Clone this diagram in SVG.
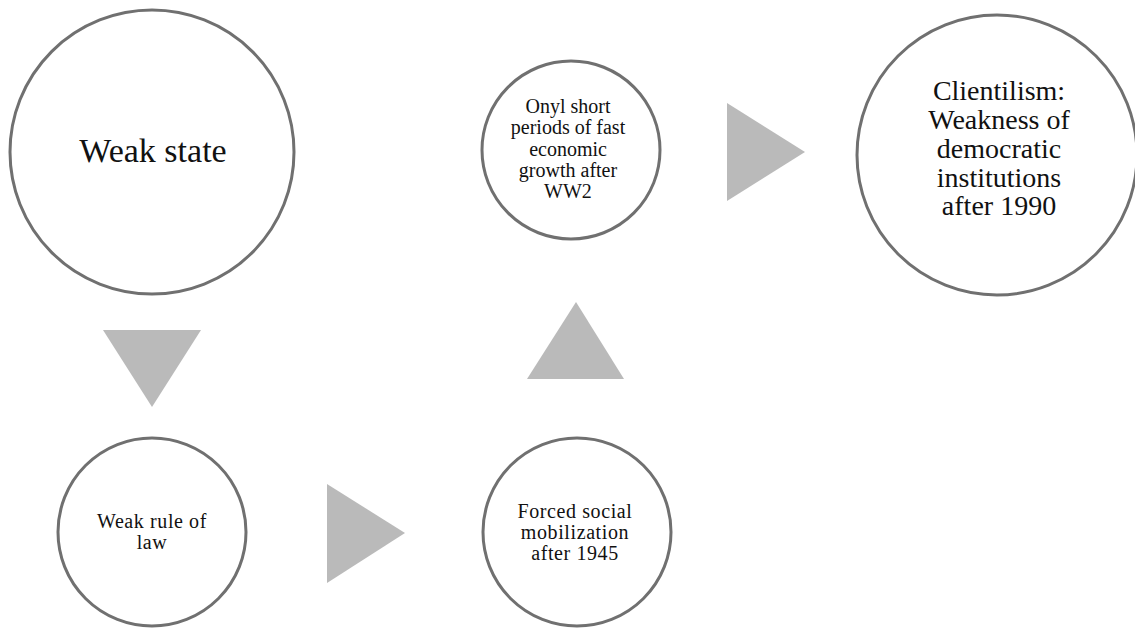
<svg xmlns="http://www.w3.org/2000/svg" width="1135" height="628" viewBox="0 0 1135 628">
<style>
.node circle{fill:#fff;stroke:#707070;stroke-width:3}
.arrow{fill:#bababa}
text{font-family:"Liberation Serif","DejaVu Serif",serif;fill:#111;text-anchor:middle}
.big{font-size:34px}
.mid{font-size:28px}
.small{font-size:20px;letter-spacing:0.6px}
.top{font-size:20px}
</style>
<rect width="1135" height="628" fill="#fff"/>
<g id="n-weak-state" class="node">
<circle cx="152" cy="152" r="142"/>
<text class="big" x="153" y="162">Weak state</text>
</g>
<g id="n-clientilism" class="node">
<circle cx="997" cy="155" r="140"/>
<text class="mid" x="999" y="100">Clientilism:</text>
<text class="mid" x="999" y="129">Weakness of</text>
<text class="mid" x="999" y="158">democratic</text>
<text class="mid" x="999" y="187">institutions</text>
<text class="mid" x="999" y="215">after 1990</text>
</g>
<g id="n-growth" class="node">
<circle cx="571" cy="150" r="89"/>
<text class="top" x="568" y="113">Onyl short</text>
<text class="top" x="568" y="134">periods of fast</text>
<text class="top" x="568" y="156">economic</text>
<text class="top" x="568" y="177">growth after</text>
<text class="top" x="568" y="198">WW2</text>
</g>
<g id="n-rule-of-law" class="node">
<circle cx="152" cy="532" r="94"/>
<text class="small" x="152" y="528">Weak rule of</text>
<text class="small" x="152" y="549">law</text>
</g>
<g id="n-mobilization" class="node">
<circle cx="577" cy="532" r="94"/>
<text class="small" x="575" y="518">Forced social</text>
<text class="small" x="575" y="539">mobilization</text>
<text class="small" x="575" y="560">after 1945</text>
</g>
<g id="connectors">
<polygon class="arrow" points="103,330 201,330 152,407"/>
<polygon class="arrow" points="327,484 327,583 405,533"/>
<polygon class="arrow" points="527,379 624,379 576,302"/>
<polygon class="arrow" points="727,103 727,201 805,152"/>
</g>
</svg>
